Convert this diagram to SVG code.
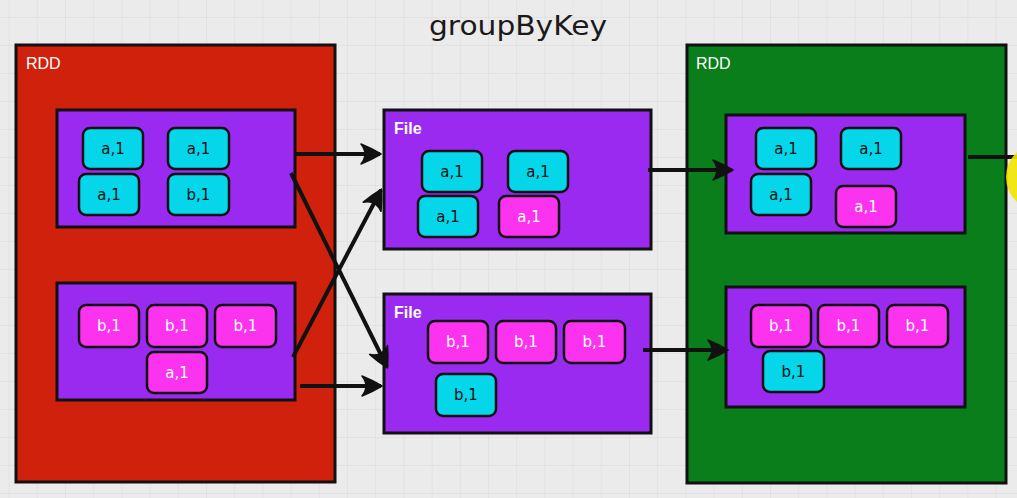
<svg xmlns="http://www.w3.org/2000/svg" width="1017" height="498" viewBox="0 0 1017 498">
<defs>
<pattern id="grid" x="8.6" y="17" width="28.2" height="28" patternUnits="userSpaceOnUse">
<path d="M0 0 H28.2 M0 0 V28" fill="none" stroke="#dadada" stroke-width="1"/>
</pattern>
<marker id="ah" markerWidth="24" markerHeight="24" refX="20" refY="12" orient="auto" markerUnits="userSpaceOnUse">
<path d="M1 2 Q11 6 21 12 Q11 18 1 22 Q9 12 1 2 Z" fill="#111" stroke="#111" stroke-width="1.5" stroke-linejoin="round"/>
</marker>
</defs>
<style>
.rdd-red{fill:#d0210d;stroke:#111;stroke-width:3}
.rdd-green{fill:#0b7e1c;stroke:#111;stroke-width:3}
.part{fill:#9b2af0;stroke:#111;stroke-width:3}
.cy{fill:#05d6ea;stroke:#111;stroke-width:2.5}
.pk{fill:#fb33ee;stroke:#111;stroke-width:2.5}
.lbl{font-family:"Liberation Sans",Arial,sans-serif;font-size:16px;fill:#fff}
.lblb{font-family:"Liberation Sans",Arial,sans-serif;font-size:16px;font-weight:bold;fill:#fff}
.t{font-family:"DejaVu Sans","Liberation Sans",sans-serif;font-size:15px;text-anchor:middle}
.td{fill:#111}
.tw{fill:#fff}
.conn{stroke:#111;stroke-width:4;fill:none;marker-end:url(#ah)}
</style>
<rect width="1017" height="498" fill="#ebebeb"/>
<rect width="1017" height="498" fill="url(#grid)"/>

<text x="518" y="35" font-family="DejaVu Sans,sans-serif" font-size="26" fill="#1a1a1a" text-anchor="middle" textLength="178" lengthAdjust="spacingAndGlyphs">groupByKey</text>

<g id="rdd-left">
<rect class="rdd-red" x="16" y="45" width="319" height="437"/>
<text class="lbl" x="26" y="69">RDD</text>
</g>
<g id="rdd-left-p1">
<rect class="part" x="57" y="110" width="238" height="117"/>
<rect class="cy" x="83" y="128" width="60" height="41" rx="7"/><text class="t td" x="113" y="154">a,1</text>
<rect class="cy" x="168" y="128" width="61" height="41" rx="7"/><text class="t td" x="198.5" y="154">a,1</text>
<rect class="cy" x="79" y="174" width="60" height="41" rx="7"/><text class="t td" x="109" y="200">a,1</text>
<rect class="cy" x="168" y="174" width="61" height="41" rx="7"/><text class="t td" x="198.5" y="200">b,1</text>
</g>
<g id="rdd-left-p2">
<rect class="part" x="57" y="283" width="238" height="117"/>
<rect class="pk" x="79" y="305" width="60" height="42" rx="7"/><text class="t tw" x="109" y="331">b,1</text>
<rect class="pk" x="147" y="305" width="60" height="42" rx="7"/><text class="t tw" x="177" y="331">b,1</text>
<rect class="pk" x="215" y="305" width="61" height="42" rx="7"/><text class="t tw" x="245.5" y="331">b,1</text>
<rect class="pk" x="147" y="352" width="60" height="41" rx="7"/><text class="t tw" x="177" y="378">a,1</text>
</g>

<g id="file-1">
<rect class="part" x="384" y="110" width="267" height="139"/>
<text class="lblb" x="394" y="134">File</text>
<rect class="cy" x="422" y="151" width="60" height="41" rx="7"/><text class="t td" x="452" y="177">a,1</text>
<rect class="cy" x="508" y="151" width="60" height="41" rx="7"/><text class="t td" x="538" y="177">a,1</text>
<rect class="cy" x="418" y="196" width="60" height="41" rx="7"/><text class="t td" x="448" y="222">a,1</text>
<rect class="pk" x="499" y="196" width="60" height="41" rx="7"/><text class="t tw" x="529" y="222">a,1</text>
</g>
<g id="file-2">
<rect class="part" x="384" y="294" width="267" height="139"/>
<text class="lblb" x="394" y="318">File</text>
<rect class="pk" x="428" y="321" width="60" height="42" rx="7"/><text class="t tw" x="458" y="347">b,1</text>
<rect class="pk" x="496" y="321" width="60" height="42" rx="7"/><text class="t tw" x="526" y="347">b,1</text>
<rect class="pk" x="564" y="321" width="61" height="42" rx="7"/><text class="t tw" x="594.5" y="347">b,1</text>
<rect class="cy" x="436" y="374" width="60" height="42" rx="7"/><text class="t td" x="466" y="400">b,1</text>
</g>

<g id="rdd-right">
<rect class="rdd-green" x="687" y="45" width="319" height="438"/>
<text class="lbl" x="696" y="69">RDD</text>
</g>
<g id="rdd-right-p1">
<rect class="part" x="726" y="115" width="239" height="118"/>
<rect class="cy" x="756" y="128" width="60" height="41" rx="7"/><text class="t td" x="786" y="154">a,1</text>
<rect class="cy" x="841" y="128" width="60" height="41" rx="7"/><text class="t td" x="871" y="154">a,1</text>
<rect class="cy" x="751" y="174" width="60" height="41" rx="7"/><text class="t td" x="781" y="200">a,1</text>
<rect class="pk" x="836" y="186" width="60" height="41" rx="7"/><text class="t tw" x="866" y="212">a,1</text>
</g>
<g id="rdd-right-p2">
<rect class="part" x="726" y="287" width="239" height="120"/>
<rect class="pk" x="751" y="305" width="60" height="42" rx="7"/><text class="t tw" x="781" y="331">b,1</text>
<rect class="pk" x="818" y="305" width="61" height="42" rx="7"/><text class="t tw" x="848.5" y="331">b,1</text>
<rect class="pk" x="887" y="305" width="61" height="42" rx="7"/><text class="t tw" x="917.5" y="331">b,1</text>
<rect class="cy" x="763" y="351" width="61" height="41" rx="7"/><text class="t td" x="793.5" y="377">b,1</text>
</g>

<g id="connectors">
<line class="conn" x1="296" y1="154" x2="380" y2="154"/>
<line class="conn" x1="291" y1="173" x2="387" y2="367"/>
<line class="conn" x1="293" y1="357" x2="381" y2="190"/>
<line class="conn" x1="300" y1="386" x2="381" y2="386"/>
<line class="conn" x1="648" y1="170" x2="732" y2="170"/>
<line class="conn" x1="643" y1="350" x2="727" y2="350"/>
<line x1="968" y1="157" x2="1017" y2="157" stroke="#111" stroke-width="4"/>
</g>
<circle cx="1040" cy="177" r="34" fill="#f2e600" opacity="0.9"/>
</svg>
